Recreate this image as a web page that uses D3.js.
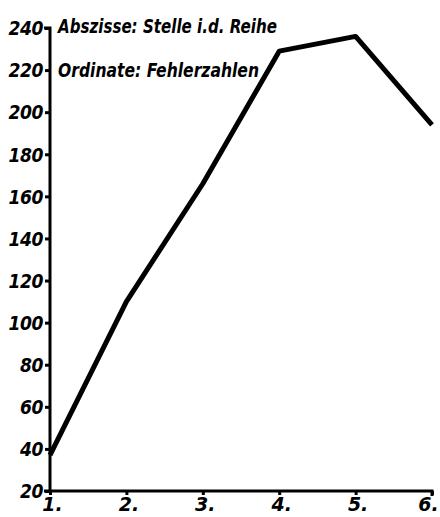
<!DOCTYPE html>
<html>
<head>
<meta charset="utf-8">
<script src="https://cdn.jsdelivr.net/npm/d3@7"></script>
<style>
  html, body { margin: 0; padding: 0; background: #fff; }
  svg { display: block; }
  .lbl { font-family: "DejaVu Sans", sans-serif; font-weight: bold; font-style: italic; fill: #000; }
</style>
</head>
<body>
<svg id="chart" width="440" height="517"></svg>
<script>
// Position in the series (x) and error counts (y)
const positions = [1, 2, 3, 4, 5, 6];
const errorCounts = [37, 110, 166, 229, 236, 194];
const xTickLabels = ["1.", "2.", "3.", "4.", "5.", "6."];
const yTicks = [20, 40, 60, 80, 100, 120, 140, 160, 180, 200, 220, 240];
const legendLines = ["Abszisse: Stelle i.d. Reihe", "Ordinate: Fehlerzahlen"];
const legendWidths = [219, 201];

const svg = d3.select("#chart");

const x = d3.scaleLinear().domain([1, 6]).range([50, 432]);
const y = d3.scaleLinear().domain([20, 240]).range([491, 28]);

// Y axis
const yAxis = svg.append("g").attr("transform", `translate(${x(1)},0)`)
  .call(d3.axisLeft(y).tickValues(yTicks).tickSize(5).tickPadding(3).tickFormat(d3.format("d")));
yAxis.select(".domain").attr("d", `M-6,${y(240)}H0V${y(20)}`).attr("stroke", "#000").attr("stroke-width", 3).attr("fill", "none");
yAxis.selectAll(".tick line").attr("stroke", "#000").attr("stroke-width", 3);
yAxis.selectAll(".tick text").attr("class", "lbl").attr("font-size", 20)
  .attr("letter-spacing", "-0.5").attr("dy", "0.34em")
  .attr("transform", "scale(0.86,1)");

// X axis
const xAxis = svg.append("g").attr("transform", `translate(0,${y(20)})`)
  .call(d3.axisBottom(x).tickValues(positions).tickSize(4).tickPadding(6).tickFormat((d, i) => xTickLabels[i]));
xAxis.select(".domain").attr("d", `M${x(1) - 6},0H${x(6)}V5`).attr("stroke", "#000").attr("stroke-width", 3).attr("fill", "none");
xAxis.selectAll(".tick line").attr("stroke", "#000").attr("stroke-width", 3);
xAxis.selectAll(".tick text").attr("class", "lbl").attr("font-size", 19)
  .attr("dx", (d, i) => i === positions.length - 1 ? -4 : 2).attr("dy", "0.55em");

// Data line
const line = d3.line().x((d, i) => x(positions[i])).y(d => y(d));
svg.append("path")
  .datum(errorCounts)
  .attr("d", line)
  .attr("fill", "none")
  .attr("stroke", "#000")
  .attr("stroke-width", 5)
  .attr("stroke-linejoin", "round");

// Axis description
svg.selectAll("text.legend")
  .data(legendLines)
  .enter().append("text")
  .attr("class", "lbl legend")
  .attr("x", 58)
  .attr("y", (d, i) => 33 + i * 44)
  .attr("font-size", 20)
  .attr("textLength", (d, i) => legendWidths[i])
  .attr("lengthAdjust", "spacingAndGlyphs")
  .text(d => d);
</script>
</body>
</html>
